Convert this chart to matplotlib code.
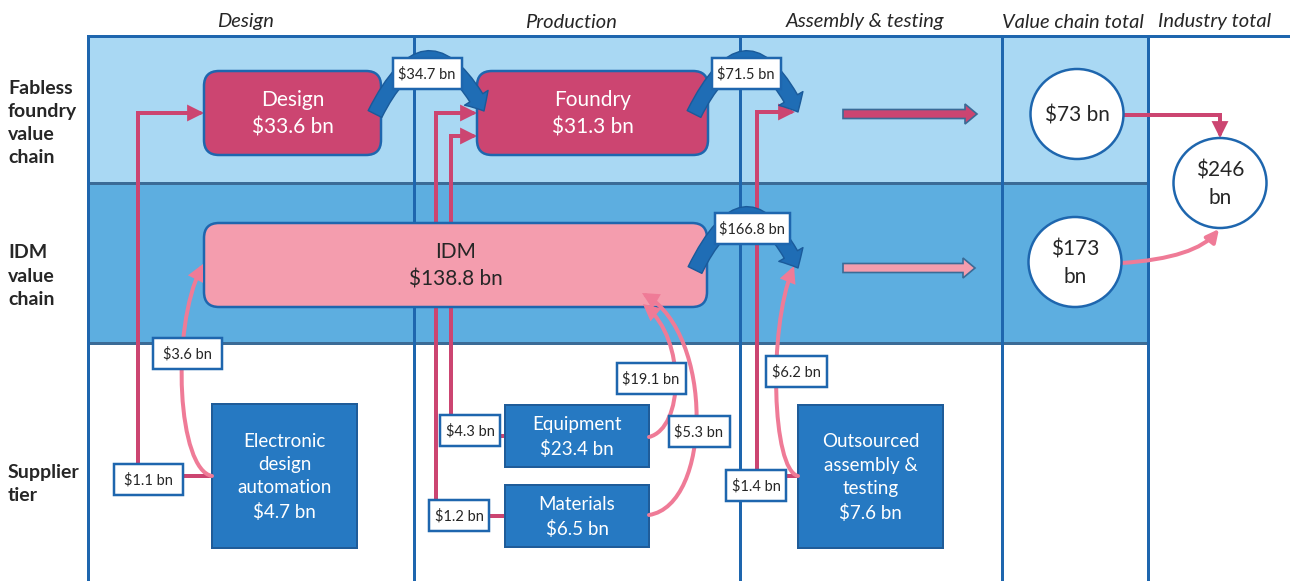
import matplotlib
matplotlib.use('Agg')
import matplotlib.pyplot as plt
from matplotlib.patches import Rectangle, FancyBboxPatch, FancyArrowPatch, FancyArrow, Ellipse
from matplotlib.path import Path

plt.rcParams['font.family'] = ['Lato', 'DejaVu Sans']
plt.rcParams['text.parse_math'] = False

# --- data (US$ bn) ---
stages = ['Design', 'Production', 'Assembly & testing', 'Value chain total', 'Industry total']
row_labels = ['Fabless\nfoundry\nvalue\nchain', 'IDM\nvalue\nchain', 'Supplier\ntier']
chain_names = ['Design', 'Foundry', 'IDM']
chain_values = [33.6, 31.3, 138.8]
supplier_names = ['Electronic\ndesign\nautomation', 'Equipment', 'Materials', 'Outsourced\nassembly &\ntesting']
supplier_values = [4.7, 23.4, 6.5, 7.6]
stage_flows = [34.7, 71.5, 166.8]          # design->foundry, foundry->ATP, IDM->ATP
fabless_inputs = [1.1, 4.3, 1.2, 1.4]      # EDA, equipment, materials, OSAT -> fabless chain
idm_inputs = [3.6, 19.1, 5.3, 6.2]         # EDA, equipment, materials, OSAT -> IDM chain
chain_totals = [73, 173]
industry_total = 246

# --- styles ---
LIGHT, MID = '#A9D8F3', '#5DAEE0'
GRID, ROWLINE = '#1E66AE', '#3B6B96'
DPINK, LPINK, CPINK = '#CC4571', '#F49DAE', '#EF7B97'
SUPP, SUPP_EDGE = '#2679C2', '#1F5C99'
ARC, ARC_EDGE = '#1F6DB5', '#1A5A9A'
TXT = '#262626'
PT = 0.72  # px -> pt at dpi 100


def bn(v):
    return f'${v} bn'


fig = plt.figure(figsize=(12.9, 5.81), dpi=100)
ax = fig.add_axes([0, 0, 1, 1])
ax.set_xlim(0, 1290)
ax.set_ylim(581, 0)
ax.axis('off')

# --- grid ---
col_x = [88, 414, 740, 1002, 1148]
ax.add_patch(Rectangle((88, 36), 1060, 147, fc=LIGHT, ec='none', zorder=0))
ax.add_patch(Rectangle((88, 183), 1060, 160, fc=MID, ec='none', zorder=0))
for y in (183, 343):
    ax.plot([88, 1148], [y, y], color=ROWLINE, lw=3 * PT, zorder=1)
for x in col_x:
    ax.plot([x, x], [36, 581], color=GRID, lw=3 * PT, zorder=1)
ax.plot([88, 1290], [36, 36], color=GRID, lw=3 * PT, zorder=1)

for s, x in zip(stages, [245, 571, 865, 1073, 1215]):
    ax.text(x, 22, s, ha='center', va='center', fontsize=14.5, style='italic', color=TXT)
for s, y in zip(row_labels, [123, 276, 484]):
    ax.text(8, y, s, ha='left', va='center', fontsize=14, weight='bold', color=TXT,
            linespacing=1.45)


def label(x, y, text, w=66, h=31):
    ax.add_patch(Rectangle((x - w / 2, y - h / 2), w, h, fc='white', ec=GRID, lw=2.5 * PT, zorder=6))
    ax.text(x, y + 1, text, ha='center', va='center', fontsize=10.5, color=TXT, zorder=7)


def line_arrow(pts, color, arrow=True, curve=False, z=2):
    if curve:
        codes = [Path.MOVETO] + [Path.CURVE4] * 3
    else:
        codes = [Path.MOVETO] + [Path.LINETO] * (len(pts) - 1)
    style = '-|>,head_length=0.5,head_width=0.25' if arrow else '-'
    ax.add_patch(FancyArrowPatch(path=Path(pts, codes), arrowstyle=style, mutation_scale=15,
                                 color=color, lw=4 * PT, zorder=z, joinstyle='miter'))


def arc(start, ctrl, end):
    p = Path([start, ctrl, end], [Path.MOVETO, Path.CURVE3, Path.CURVE3])
    ax.add_patch(FancyArrowPatch(path=p, arrowstyle='simple,head_length=11,head_width=20,tail_width=11',
                                 mutation_scale=1, fc=ARC, ec=ARC_EDGE, lw=1, zorder=5))


# --- supplier flows into the fabless chain (dark pink elbows) ---
line_arrow([(138, 478), (138, 113), (204, 113)], DPINK)
line_arrow([(451, 430), (451, 136), (477, 136)], DPINK)
line_arrow([(436, 515), (436, 113), (477, 113)], DPINK)
line_arrow([(757, 485), (757, 112), (795, 112)], DPINK)
for (x0, x1, y) in [(148, 212, 476), (470, 505, 436), (459, 505, 516), (756, 798, 476)]:
    line_arrow([(x0, y), (x1, y)], DPINK, arrow=False)

# --- supplier flows into the IDM chain (light pink curves, drawn over the boxes) ---
line_arrow([(212, 476), (178, 470), (170, 330), (203, 264)], CPINK, curve=True, z=4)
line_arrow([(649, 437), (684, 428), (686, 340), (643, 304)], CPINK, curve=True, z=4)
line_arrow([(649, 515), (712, 505), (714, 335), (642, 293)], CPINK, curve=True, z=4)
line_arrow([(798, 476), (772, 470), (768, 330), (794, 266)], CPINK, curve=True, z=4)

# --- chain boxes ---
for (x0, y0, x1, y1), name, v, fc, tc in zip(
        [(204, 71, 381, 155), (477, 71, 708, 155), (204, 223, 707, 307)],
        chain_names, chain_values, [DPINK, DPINK, LPINK], ['white', 'white', TXT]):
    ax.add_patch(FancyBboxPatch((x0, y0), x1 - x0, y1 - y0, boxstyle='round,pad=0,rounding_size=15',
                                fc=fc, ec=GRID, lw=2.5 * PT, zorder=3))
    ax.text((x0 + x1) / 2, (y0 + y1) / 2 + 1, f'{name}\n{bn(v)}',
            ha='center', va='center', fontsize=15, color=tc, linespacing=1.45, zorder=4)

# --- supplier boxes ---
for (x0, y0, x1, y1), name, v in zip(
        [(212, 404, 357, 548), (505, 405, 649, 467), (505, 485, 649, 547), (798, 405, 943, 548)],
        supplier_names, supplier_values):
    ax.add_patch(Rectangle((x0, y0), x1 - x0, y1 - y0, fc=SUPP, ec=SUPP_EDGE, lw=2 * PT, zorder=3))
    ax.text((x0 + x1) / 2, (y0 + y1) / 2 + 1, f'{name}\n{bn(v)}', ha='center', va='center',
            fontsize=13.5, color='white', linespacing=1.45, zorder=4)

# --- stage-to-stage blue arcs ---
arc((375, 114), (428, 8), (484, 111))
arc((694, 114), (747, 8), (798, 112))
arc((695, 270), (747, 164), (798, 268))

# --- block arrows to value chain totals ---
for y, fc, dx in [(114, DPINK, 134), (268, LPINK, 132)]:
    ax.add_patch(FancyArrow(843, y, dx, 0, width=9, head_width=20, head_length=12,
                            length_includes_head=True, fc=fc, ec=ROWLINE, lw=1.2, zorder=3))

# --- totals ---
line_arrow([(1124, 115), (1220, 115), (1220, 138)], DPINK)
ax.add_patch(FancyArrowPatch(path=Path([(1122, 263), (1196, 258), (1219, 229)],
                                       [Path.MOVETO, Path.CURVE3, Path.CURVE3]),
                             arrowstyle='-|>,head_length=0.5,head_width=0.25', mutation_scale=15,
                             color=CPINK, lw=4 * PT, zorder=2))
for (cx, cy), txt in zip([(1077, 114), (1075, 262), (1220, 183)],
                         [bn(chain_totals[0]), f'${chain_totals[1]}\nbn', f'${industry_total}\nbn']):
    ax.add_patch(Ellipse((cx, cy), 93, 90, fc='white', ec=GRID, lw=2.5 * PT, zorder=3))
    ax.text(cx, cy + 1, txt, ha='center', va='center', fontsize=15, color=TXT, linespacing=1.45, zorder=4)

# --- value labels ---
label(427, 73, bn(stage_flows[0]), w=69)
label(746, 73, bn(stage_flows[1]), w=69)
label(752, 228, bn(stage_flows[2]), w=75)
label(148, 479, bn(fabless_inputs[0]), w=69)
label(470, 430, bn(fabless_inputs[1]), w=60)
label(459, 515, bn(fabless_inputs[2]), w=60)
label(756, 485, bn(fabless_inputs[3]), w=60)
label(187, 353, bn(idm_inputs[0]), w=69)
label(651, 378, bn(idm_inputs[1]), w=69)
label(699, 431, bn(idm_inputs[2]), w=61)
label(796, 371, bn(idm_inputs[3]), w=61)

fig.savefig('out.png', dpi=100)
